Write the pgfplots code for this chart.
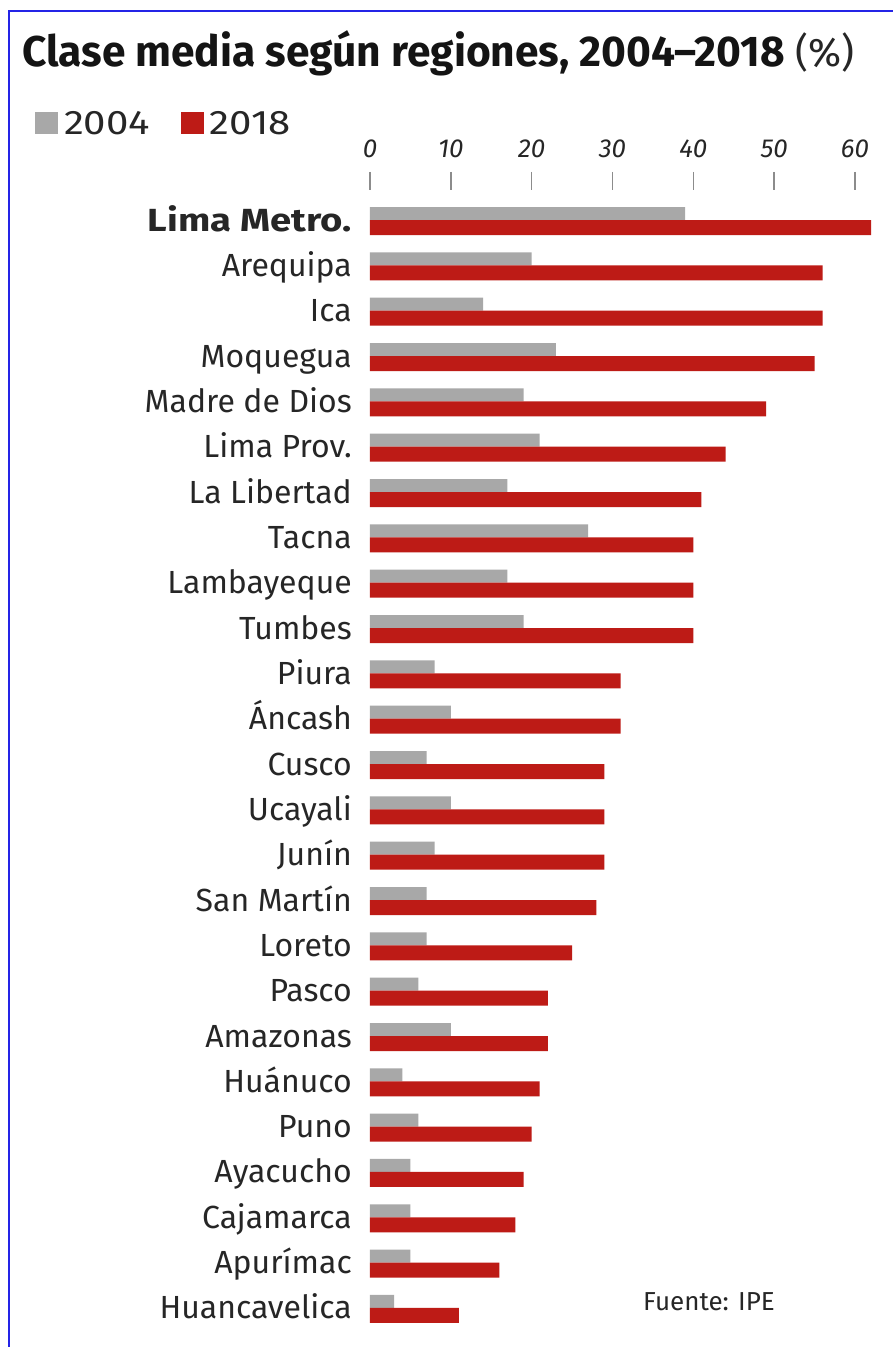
\documentclass[border=0pt]{standalone}
\usepackage{pgfplots}
\pgfplotsset{compat=1.18}
\usepackage{fontspec}
\setmainfont{Fira Sans}
\usepackage{graphicx}
\definecolor{bargray}{HTML}{A8A8A8}
\definecolor{barred}{HTML}{BD1B16}
\definecolor{txt}{HTML}{262626}
\definecolor{tickgray}{HTML}{8C8C8C}
\definecolor{frameblue}{HTML}{2424E6}
\begin{document}
\begin{tikzpicture}
\useasboundingbox (0,0) rectangle (893pt,1347pt);
\fill[white] (0,0) rectangle (893pt,1347pt);
\draw[frameblue, line width=2pt] (9pt,0pt) -- (9pt,1336pt) -- (893pt,1336pt);
\begin{axis}[
  at={(370pt,7.3pt)}, anchor=south west,
  scale only axis, width=485pt, height=1167.7pt,
  xbar, xmin=0, xmax=60, ymin=-0.7, ymax=25.061,
  enlargelimits=false, clip=false,
  axis line style={draw=none},
  xtick={0,10,20,30,40,50,60}, xtick pos=upper, xticklabel pos=upper,
  tick align=inside, major tick length=18pt,
  xtick style={draw=tickgray, line width=1.6pt},
  /pgf/number format/assume math mode=true,
  xticklabel style={font=\fontsize{26}{30}\selectfont\itshape, text=txt, inner sep=0pt, yshift=14pt},
  ytick={0,...,24}, ytick style={draw=none},
  yticklabels={Huancavelica,Apurímac,Cajamarca,Ayacucho,Puno,Huánuco,Amazonas,Pasco,Loreto,San Martín,Junín,Ucayali,Cusco,Áncash,Piura,Tumbes,Lambayeque,Tacna,La Libertad,Lima Prov.,Madre de Dios,Moquegua,Ica,Arequipa,{\resizebox{204pt}{\height}{\bfseries Lima Metro.}}},
  yticklabel style={font=\fontsize{32}{38}\selectfont, text=txt, anchor=east, inner sep=0pt, text height=22pt, text depth=0pt, xshift=-18pt},
  legend columns=2,
  legend style={draw=none, fill=none, inner sep=0pt, outer sep=0pt, anchor=west, at={(-0.6907,1.0411)},
    font=\fontsize{34}{40}\selectfont, text=txt, nodes={inner sep=0pt},
    /tikz/every odd column/.append style={column sep=6pt},
    /tikz/every even column/.append style={column sep=31pt}},
  legend image code/.code={\fill[#1] (0pt,-10pt) rectangle (23pt,12pt);},
]
\addplot[fill=bargray, draw=none, bar width=13pt, bar shift=6.5pt] coordinates {
(3,0) (5,1) (5,2) (5,3) (6,4) (4,5) (10,6) (6,7) (7,8) (7,9) (8,10) (10,11) (7,12)
(10,13) (8,14) (19,15) (17,16) (27,17) (17,18) (21,19) (19,20) (23,21) (14,22) (20,23) (39,24)};
\addplot[fill=barred, draw=none, bar width=15pt, bar shift=-7.5pt] coordinates {
(11,0) (16,1) (18,2) (19,3) (20,4) (21,5) (22,6) (22,7) (25,8) (28,9) (29,10) (29,11) (29,12)
(31,13) (31,14) (40,15) (40,16) (40,17) (41,18) (44,19) (49,20) (55,21) (56,22) (56,23) (62,24)};
\legend{{\scalebox{1.18}[1]{2004}},{\scalebox{1.18}[1]{2018}}}
\end{axis}
\node[anchor=base west, inner sep=0pt, text=black!92] at (22pt,1280pt) {\resizebox{763pt}{\height}{\fontsize{43}{50}\selectfont\bfseries Clase media según regiones, 2004–2018}};
\node[anchor=base west, inner sep=0pt, text=txt] at (795pt,1280pt) {\fontsize{40}{48}\selectfont (\%)};
\node[anchor=west, inner sep=0pt, text=txt] at (643pt,45pt) {\fontsize{26}{30}\selectfont Fuente: IPE};
\end{tikzpicture}
\end{document}
